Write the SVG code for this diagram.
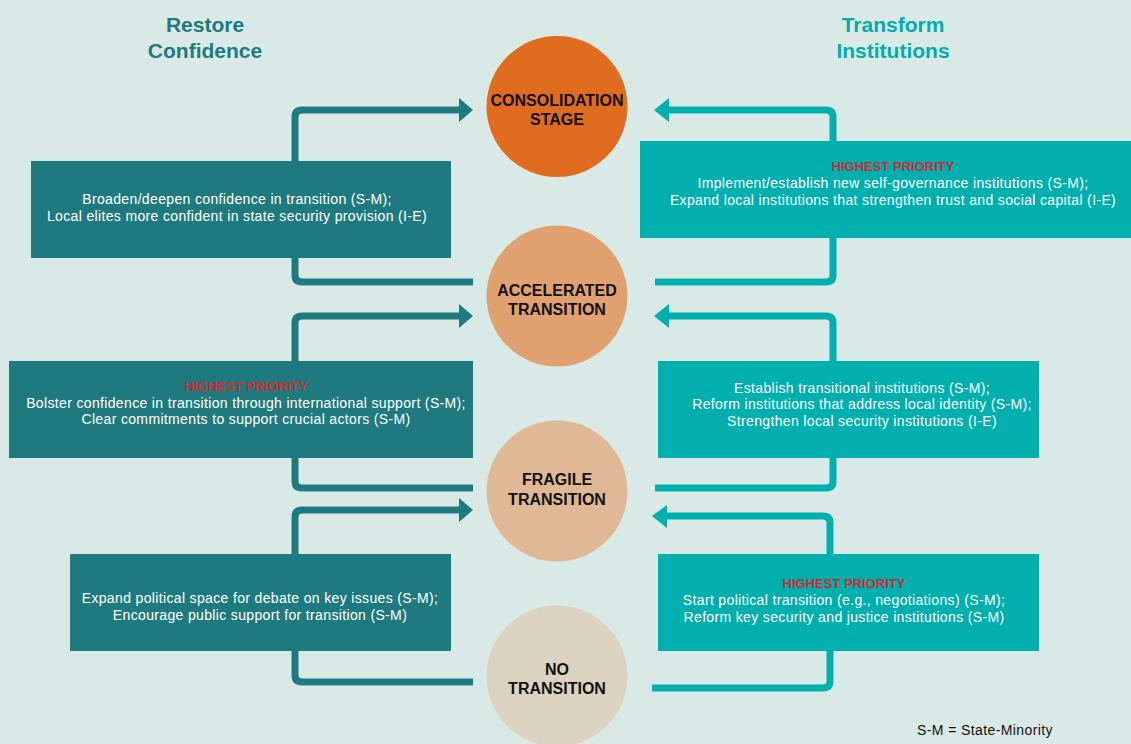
<svg xmlns="http://www.w3.org/2000/svg" width="1131" height="744" viewBox="0 0 1131 744">
<style>
.bg{fill:#d9eae6}
.hdr{font-family:"Liberation Sans",Arial,sans-serif;font-weight:bold;font-size:21px;text-anchor:middle}
.hl{fill:#1f7a80}
.hr{fill:#00adab}
.bl{fill:#1f7a80}
.br{fill:#00afae}
.bt{font-family:"Liberation Sans",Arial,sans-serif;font-size:14px;letter-spacing:0.35px;fill:#ffffff;text-anchor:middle}
.pri{font-family:"Liberation Sans",Arial,sans-serif;font-size:13px;font-weight:bold;fill:#d22a2f;text-anchor:middle}
.ct{font-family:"Liberation Sans",Arial,sans-serif;font-size:16px;font-weight:bold;fill:#111111;text-anchor:middle}
.cl{fill:none;stroke:#1f7a80;stroke-width:7}
.cr{fill:none;stroke:#00afae;stroke-width:7}
.al{fill:#1f7a80}
.ar{fill:#00afae}
.note{font-family:"Liberation Sans",Arial,sans-serif;font-size:14px;letter-spacing:0.4px;fill:#111111}
</style>
<rect class="bg" x="0" y="0" width="1131" height="744"/>

<g id="connectors">
  <path class="cl" d="M295,161 V117 Q295,110 302,110 H461"/>
  <polygon class="al" points="459,98 473,110 459,122"/>
  <path class="cl" d="M295,258 V275 Q295,282 302,282 H473"/>
  <path class="cl" d="M295,361 V323 Q295,316 302,316 H461"/>
  <polygon class="al" points="459,304 473,316 459,328"/>
  <path class="cl" d="M295,458 V481 Q295,488 302,488 H473"/>
  <path class="cl" d="M295,554 V517 Q295,510 302,510 H461"/>
  <polygon class="al" points="459,498 473,510 459,522"/>
  <path class="cl" d="M295,651 V675 Q295,682 302,682 H473"/>

  <path class="cr" d="M833,141 V117 Q833,110 826,110 H667"/>
  <polygon class="ar" points="669,98 654,110 669,122"/>
  <path class="cr" d="M833,238 V275 Q833,282 826,282 H655"/>
  <path class="cr" d="M833,361 V323 Q833,316 826,316 H667"/>
  <polygon class="ar" points="669,304 654,316 669,328"/>
  <path class="cr" d="M833,458 V481 Q833,488 826,488 H655"/>
  <path class="cr" d="M830,554 V523 Q830,516 823,516 H665"/>
  <polygon class="ar" points="667,505 652,516 667,528"/>
  <path class="cr" d="M830,651 V681 Q830,688 823,688 H652"/>
</g>

<g id="header-restore">
  <text class="hdr hl" x="205" y="32">Restore</text>
  <text class="hdr hl" x="205" y="58">Confidence</text>
</g>
<g id="header-transform">
  <text class="hdr hr" x="893" y="32">Transform</text>
  <text class="hdr hr" x="893" y="58">Institutions</text>
</g>

<g id="consolidation">
  <circle cx="557" cy="106.5" r="70.5" fill="#e06c20"/>
  <text class="ct" x="557" y="106">CONSOLIDATION</text>
  <text class="ct" x="557" y="125">STAGE</text>
</g>
<g id="accelerated">
  <circle cx="557" cy="296" r="70.5" fill="#e0a070"/>
  <text class="ct" x="557" y="296">ACCELERATED</text>
  <text class="ct" x="557" y="315">TRANSITION</text>
</g>
<g id="fragile">
  <circle cx="557" cy="491" r="70.5" fill="#dfb895"/>
  <text class="ct" x="557" y="485">FRAGILE</text>
  <text class="ct" x="557" y="505">TRANSITION</text>
</g>
<g id="none">
  <circle cx="557" cy="676" r="70.5" fill="#dcd2c0"/>
  <text class="ct" x="557" y="675">NO</text>
  <text class="ct" x="557" y="694">TRANSITION</text>
</g>

<g id="box-left-1">
  <rect class="bl" x="31" y="161" width="420" height="97"/>
  <text class="bt" x="237" y="204">Broaden/deepen confidence in transition (S-M);</text>
  <text class="bt" x="237" y="221">Local elites more confident in state security provision (I-E)</text>
</g>
<g id="box-left-2">
  <rect class="bl" x="9" y="361" width="464" height="97"/>
  <text class="pri" x="246" y="391">HIGHEST PRIORITY</text>
  <text class="bt" x="246" y="408">Bolster confidence in transition through international support (S-M);</text>
  <text class="bt" x="246" y="424">Clear commitments to support crucial actors (S-M)</text>
</g>
<g id="box-left-3">
  <rect class="bl" x="70" y="554" width="381" height="97"/>
  <text class="bt" x="260" y="603">Expand political space for debate on key issues (S-M);</text>
  <text class="bt" x="260" y="620">Encourage public support for transition (S-M)</text>
</g>

<g id="box-right-1">
  <rect class="br" x="640" y="141" width="491" height="97"/>
  <text class="pri" x="893" y="171">HIGHEST PRIORITY</text>
  <text class="bt" x="893" y="188">Implement/establish new self-governance institutions (S-M);</text>
  <text class="bt" x="893" y="205">Expand local institutions that strengthen trust and social capital (I-E)</text>
</g>
<g id="box-right-2">
  <rect class="br" x="658" y="361" width="381" height="97"/>
  <text class="bt" x="862" y="393">Establish transitional institutions (S-M);</text>
  <text class="bt" x="862" y="409">Reform institutions that address local identity (S-M);</text>
  <text class="bt" x="862" y="426">Strengthen local security institutions (I-E)</text>
</g>
<g id="box-right-3">
  <rect class="br" x="658" y="554" width="381" height="97"/>
  <text class="pri" x="844" y="588">HIGHEST PRIORITY</text>
  <text class="bt" x="844" y="605">Start political transition (e.g., negotiations) (S-M);</text>
  <text class="bt" x="844" y="622">Reform key security and justice institutions (S-M)</text>
</g>

<g id="legend">
  <text class="note" x="917" y="735">S-M = State-Minority</text>
</g>
</svg>
